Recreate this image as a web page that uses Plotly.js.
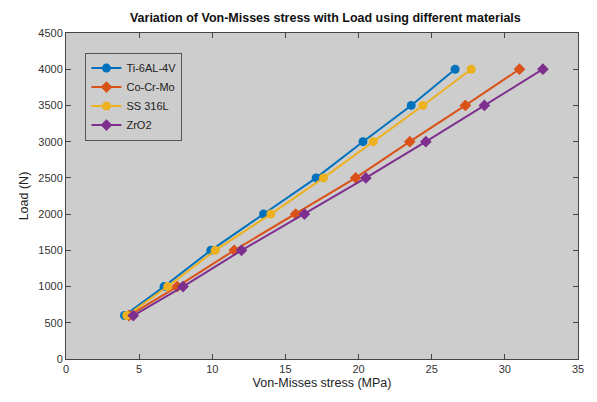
<!DOCTYPE html>
<html>
<head>
<meta charset="utf-8">
<script src="https://cdn.plot.ly/plotly-3.0.1.min.js"></script>
<style>html,body{margin:0;padding:0;background:#fff;}#chart{width:597px;height:402px;}</style>
</head>
<body>
<div id="chart"></div>
<script>
const load = [600, 1000, 1500, 2000, 2500, 3000, 3500, 4000];
const seriesNames = ["Ti-6AL-4V", "Co-Cr-Mo", "SS 316L", "ZrO2"];
const stressTi = [4.0, 6.7, 9.9, 13.5, 17.1, 20.3, 23.6, 26.6];
const stressCoCrMo = [4.3, 7.6, 11.5, 15.7, 19.8, 23.5, 27.3, 31.0];
const stressSS = [4.15, 6.95, 10.2, 14.0, 17.6, 21.0, 24.4, 27.7];
const stressZrO2 = [4.6, 8.0, 12.0, 16.3, 20.5, 24.6, 28.6, 32.6];
const xTicks = [0, 5, 10, 15, 20, 25, 30, 35];
const yTicks = [0, 500, 1000, 1500, 2000, 2500, 3000, 3500, 4000, 4500];

const colors = ["#0072BD", "#D95319", "#EDB120", "#7E2F8E"];
const symbols = ["circle", "diamond", "circle", "diamond"];
const allStress = [stressTi, stressCoCrMo, stressSS, stressZrO2];

const traces = allStress.map((s, i) => ({
  x: s, y: load, type: "scatter", mode: "lines+markers", name: seriesNames[i],
  line: {color: colors[i], width: 2},
  marker: {color: colors[i], size: 9, symbol: symbols[i]}
}));

const axisCommon = {
  showline: true, linecolor: "#444", linewidth: 1, mirror: "ticks",
  ticks: "inside", ticklen: 5, tickcolor: "#444", showgrid: false, zeroline: false,
  tickfont: {family: "Liberation Sans, Arial, sans-serif", size: 11, color: "#333"}
};

const layout = {
  width: 597, height: 402,
  margin: {l: 66, r: 19, t: 33, b: 43},
  paper_bgcolor: "#ffffff", plot_bgcolor: "#cdcdcd",
  title: {text: "<b>Variation of Von-Misses stress with Load using different materials</b>",
    font: {family: "Liberation Sans, Arial, sans-serif", size: 12.5, color: "#111"},
    x: 0.545, xanchor: "center", y: 0.955, yanchor: "middle"},
  xaxis: Object.assign({}, axisCommon, {range: [0, 35], tickvals: xTicks,
    title: {text: "Von-Misses stress (MPa)", standoff: 4,
      font: {family: "Liberation Sans, Arial, sans-serif", size: 12.5, color: "#222"}}}),
  yaxis: Object.assign({}, axisCommon, {range: [0, 4500], tickvals: yTicks,
    title: {text: "Load (N)", standoff: 6,
      font: {family: "Liberation Sans, Arial, sans-serif", size: 12.5, color: "#222"}}}),
  legend: {x: 0.038, y: 0.94, xanchor: "left", yanchor: "top",
    bgcolor: "#cdcdcd", bordercolor: "#555", borderwidth: 1,
    font: {family: "Liberation Sans, Arial, sans-serif", size: 11, color: "#222"},
    tracegroupgap: 0, itemwidth: 30},
  showlegend: true
};

Plotly.newPlot("chart", traces, layout, {displayModeBar: false, staticPlot: true});
</script>
</body>
</html>
